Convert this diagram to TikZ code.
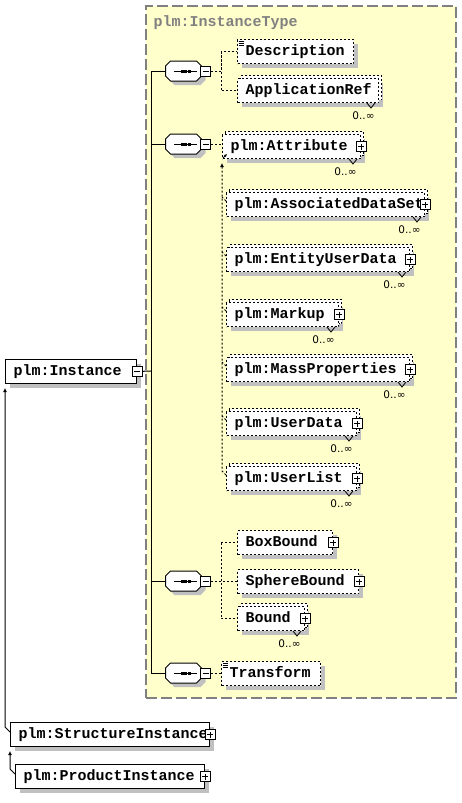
\documentclass[tikz,border=0pt]{standalone}
\usepackage{fontspec}
\setmonofont{Liberation Mono}
\newfontfamily\occfont{DejaVu Sans}
\usetikzlibrary{arrows.meta,positioning,shadows}
\definecolor{typefill}{HTML}{FFFFCC}
\definecolor{typeline}{HTML}{808080}
\definecolor{shadegray}{HTML}{C0C0C0}
\newcommand\xsdfont{\ttfamily\bfseries\fontsize{15}{18}\selectfont}

\begin{document}
\begin{tikzpicture}[
  x=1pt,y=-1pt,line width=1pt,
  shadowed/.style={drop shadow={shadow xshift=4pt,shadow yshift=-4pt,
    fill=shadegray,opacity=1}},
  elem/.style={draw,fill=white,anchor=north west,font=\xsdfont,shadowed,
    text width=#1,align=left,minimum height=24pt,inner xsep=8pt,inner ysep=2pt,
    text height=10pt,text depth=2pt},
  opt/.style={elem=#1,dash pattern=on 2pt off 2pt},
  multi/.style={opt=#1,copy shadow={shadow xshift=3pt,shadow yshift=3pt,
    draw=black,fill=white,dash pattern=on 2pt off 2pt}},
  docu/.style={path picture={\foreach \k in {1.5,3.5,5.5}
    \draw[solid,line width=0.8pt] ([xshift=1pt,yshift=-\k pt]path picture bounding box.north west) -- ++(5pt,0);}},
  seq/.style={minimum width=35pt,minimum height=19pt,inner sep=0pt},
  octa/.style={draw,fill=white,shadowed},
  pm/.style={draw,solid,fill=white,minimum size=10pt,inner sep=0pt},
  mbox/.style={pm,path picture={\draw ([xshift=-3pt]path picture bounding box.center)
    -- ([xshift=3pt]path picture bounding box.center);}},
  pbox/.style={pm,path picture={\draw ([xshift=-3pt]path picture bounding box.center)
    -- ([xshift=3pt]path picture bounding box.center);
    \draw ([yshift=-3pt]path picture bounding box.center) -- ([yshift=3pt]path picture bounding box.center);}},
  typebox/.style={draw=typeline,fill=typefill,line width=1.5pt,dash pattern=on 11pt off 4pt,
    anchor=north west,minimum width=310pt,minimum height=692pt,inner sep=0pt},
  ttl/.style={font=\xsdfont,text=typeline,inner sep=0pt,anchor=base west},
  optline/.style={dash pattern=on 2pt off 2pt},
  ext/.style={-{Latex[length=4pt,width=4pt]}},
  vmark/.style={line width=0.8pt},
  occ/.style={font=\occfont\fontsize{10.5}{12}\selectfont,inner sep=0pt,anchor=east}
]
\useasboundingbox (0,0) rectangle (461,803);
\node[typebox] (itype) at (145,5) {};
\node[ttl] (itype-t) at (153,26) {plm:InstanceType};

% compositors (sequence)
\node[seq] (seq1) at (183.5,71) {};
\node[seq] (seq2) at (183.5,144) {};
\node[seq] (seq3) at (183.5,581) {};
\node[seq] (seq4) at (183.5,673) {};
\foreach \s in {seq1,seq2,seq3,seq4}{
  \draw[octa] ([xshift=5pt]\s.north west) -- ([xshift=-5pt]\s.north east)
    -- ([yshift=-5pt]\s.north east) -- ([yshift=5pt]\s.south east)
    -- ([xshift=-5pt]\s.south east) -- ([xshift=5pt]\s.south west)
    -- ([yshift=5pt]\s.south west) -- ([yshift=-5pt]\s.north west) -- cycle;
  \draw ([xshift=-9.5pt]\s.center) -- ++(23pt,0);
  \foreach \k in {-1.5,2,5.5}
    \fill ([xshift=\k pt]\s.center) +(-1.5pt,-1.5pt) rectangle +(1.5pt,1.5pt);
  \node[mbox] (\s-m) at ([xshift=4pt]\s.east) {};
}

% elements
\node[elem=115] (inst) at (5,359) {plm:Instance};
\node[mbox] (inst-m) at (inst.east) {};
\node[opt=100,docu] (desc) at (237,39) {Description};
\node[multi=125] (appref) at (237,78) {ApplicationRef};
\node[multi=122] (att) at (222,134) {plm:Attribute};
\node[multi=182] (ads) at (226,192) {plm:AssociatedDataSet};
\node[multi=167] (eud) at (226,247) {plm:EntityUserData};
\node[multi=96] (mkp) at (226,302) {plm:Markup};
\node[multi=167] (mass) at (226,357) {plm:MassProperties};
\node[multi=114] (udata) at (226,411) {plm:UserData};
\node[multi=114] (ulist) at (226,466) {plm:UserList};
\node[opt=79] (boxb) at (237,530) {BoxBound};
\node[opt=105] (sphb) at (237,569) {SphereBound};
\node[multi=51] (bound) at (237,606) {Bound};
\node[opt=83,docu] (trans) at (221,661) {Transform};
\node[elem=183] (sinst) at (10,722) {plm:StructureInstance};
\node[elem=173] (pinst) at (15,764) {plm:ProductInstance};
\foreach \n in {att,ads,eud,mkp,mass,udata,ulist,boxb,sphb,bound,sinst,pinst}
  \node[pbox] (\n-p) at (\n.east) {};

% occurrence marks
\foreach \n in {appref,att,ads,eud,mkp,mass,udata,ulist,bound}{
  \draw[vmark] ([xshift=-12pt]\n.south east) -- ++(4pt,-5pt) -- ++(4pt,5pt);
  \node[occ] (\n-o) at ([xshift=-4pt,yshift=-13pt]\n.south east) {0..∞};
}

% content model
\coordinate (trunk) at (151,371);
\draw (inst-m) -- (trunk);
\draw (seq1.west) -- (seq1.west -| trunk) -- (seq4.west -| trunk) -- (seq4.west);
\draw (seq2.west) -- (seq2.west -| trunk);
\draw (seq3.west) -- (seq3.west -| trunk);
\draw[optline] (seq1-m) -| ([xshift=-16pt]desc.west) -- (desc.west);
\draw[optline] ([xshift=-16pt]desc.west) |- (appref.west);
\draw[optline] (seq2-m) -- (seq2-m -| att.west);
\draw[optline,ext] ([yshift=-9pt]ulist.north west) -- ++(-4pt,4pt) -- ([yshift=-4pt]att.south west);
\foreach \n in {ads,eud,mkp,mass,udata}
  \draw[optline] ([yshift=-9pt]\n.north west) -- ++(-4pt,4pt);
\draw[-{Latex[length=3pt,width=3pt]},line width=0.8pt] ([xshift=1pt,yshift=1pt]att.south west) -- ++(4pt,4pt);
\draw[optline] (seq3-m) -- (seq3-m -| sphb.west);
\draw[optline] ([xshift=-16pt]boxb.west) -- (boxb.west);
\draw[optline] ([xshift=-16pt]boxb.west) |- (bound.west);
\draw[optline] (seq4-m) -- (seq4-m -| trans.west);

% derivations
\draw[ext] ([yshift=-10pt]sinst.north west) -- ++(-5pt,5pt) -- ([yshift=-4pt]inst.south west);
\draw[ext] ([yshift=-10pt]pinst.north west) -- ++(-5pt,5pt) -- ([yshift=-4pt]sinst.south west);
\end{tikzpicture}
\end{document}
